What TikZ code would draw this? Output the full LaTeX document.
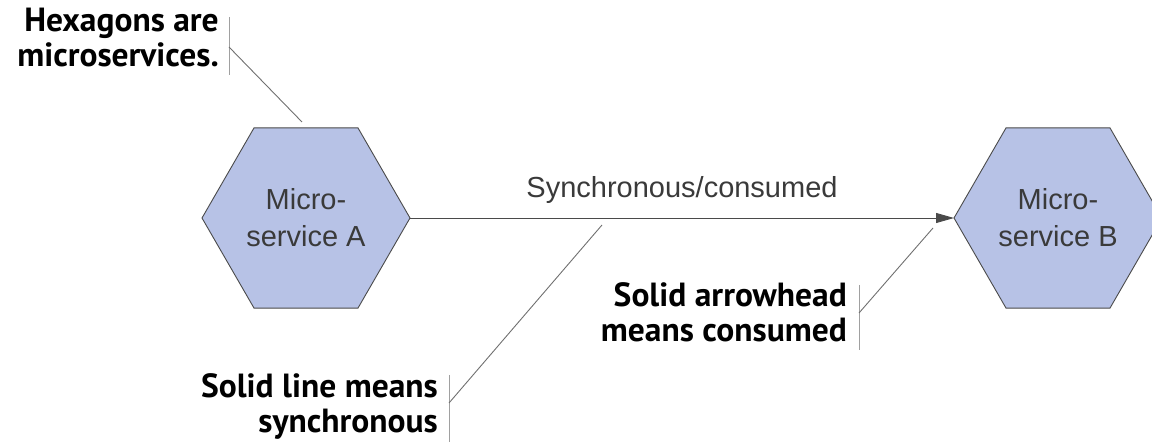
\documentclass[tikz,border=0pt]{standalone}
\usepackage{fontspec}
\setmainfont{Liberation Sans}
\newfontfamily\calloutfont{PT Sans}
\usetikzlibrary{shapes.geometric,arrows.meta}

\definecolor{hexfill}{HTML}{B7C2E6}
\definecolor{hexline}{HTML}{4A4A4A}
\definecolor{labelgray}{HTML}{3A3A3A}
\definecolor{leadergray}{HTML}{707070}
\definecolor{bargray}{HTML}{A0A0A0}

\begin{document}
\begin{tikzpicture}[x=1pt,y=-1pt,
  service/.style={regular polygon, regular polygon sides=6,
    minimum size=208pt, inner sep=0pt, outer sep=0pt,
    draw=hexline, line width=0.9pt, fill=hexfill,
    align=center, text=labelgray,
    font=\fontsize{29}{37}\selectfont},
  flow/.style={draw=hexline, line width=0.9pt,
    -{Triangle[length=18pt,width=10pt]}},
  flowlabel/.style={text=labelgray, font=\fontsize{29}{33}\selectfont,
    inner sep=0pt},
  note/.style={align=right, inner sep=0pt, text=black,
    font=\calloutfont\bfseries\fontsize{33.5}{35}\selectfont},
  bar/.style={draw=bargray, line width=0.9pt},
  leader/.style={draw=leadergray, line width=0.9pt}]

  % canvas
  \useasboundingbox (0,0) rectangle (1152,446);
  \clip (0,0) rectangle (1152,446);

  % the two microservices
  \node[service] (svcA) at (306,218) {Micro-\\service A};
  \node[service] (svcB) at (1058,218) {Micro-\\service B};

  % synchronous call, consumed
  \draw[flow] (svcA.east) -- (svcB.west)
    node[flowlabel, midway, anchor=base, yshift=20pt] (flowLbl) {Synchronous/consumed};

  % callouts are anchored on the baseline of their last line
  \node[note, anchor=base east] (noteHex) at (219,67) {Hexagons are\\microservices.};
  \coordinate (hexBarTop) at (229,17);
  \coordinate (hexBarBot) at (229,75);
  \coordinate (hexBarMid) at (229,47);
  \coordinate (hexTip) at (302,122);
  \draw[bar] (hexBarTop) -- (hexBarBot);
  \draw[leader] (hexBarMid) -- (hexTip);

  \node[note, anchor=base east] (noteLine) at (438,432) {Solid line means\\synchronous};
  \coordinate (lineBarTop) at (449,375);
  \coordinate (lineBarBot) at (449,442);
  \coordinate (lineBarMid) at (449,403);
  \coordinate (lineTip) at (602,225);
  \draw[bar] (lineBarTop) -- (lineBarBot);
  \draw[leader] (lineBarMid) -- (lineTip);

  \node[note, anchor=base east] (noteHead) at (847,342) {Solid arrowhead\\means consumed};
  \coordinate (headBarTop) at (859,285);
  \coordinate (headBarBot) at (859,350);
  \coordinate (headBarMid) at (859,313);
  \coordinate (headTip) at (933,228);
  \draw[bar] (headBarTop) -- (headBarBot);
  \draw[leader] (headBarMid) -- (headTip);
\end{tikzpicture}
\end{document}
